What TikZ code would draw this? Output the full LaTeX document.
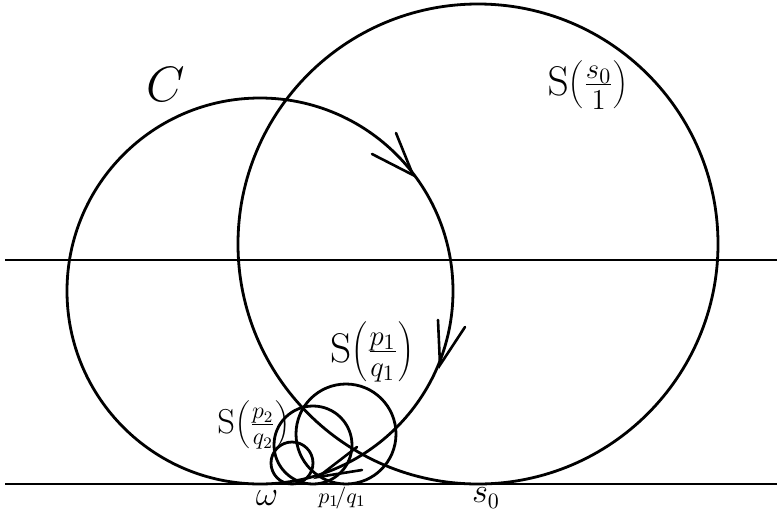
\documentclass[tikz,border=0pt]{standalone}
\begin{document}
\begin{tikzpicture}[x=0.5pt, y=-0.5pt,
  curve/.style={line width=1.4pt},
  barb/.style={line width=1.3pt, line cap=round},
  biglabel/.style={font=\fontsize{22}{26}\selectfont, inner sep=0pt},
  midlabel/.style={font=\fontsize{17}{20}\selectfont, inner sep=0pt},
  axislabel/.style={font=\fontsize{16}{19}\selectfont, inner sep=0pt}
]
\useasboundingbox (0,0) rectangle (777,515);

% The two horizontal lines.
\draw[curve] (5,484) -- (777,484);
\draw[curve] (5,260) -- (777,260);

% Centres of the circles.
\coordinate (cC)  at (260,291);
\coordinate (cS0) at (478,244);
\coordinate (cS1) at (346,434);
\coordinate (cS2) at (313,445);
\coordinate (cS3) at (292,463);

\draw[curve] (cC)  circle (193);
\draw[curve] (cS0) circle (240);
\draw[curve] (cS1) circle (50);
\draw[curve] (cS2) circle (39);
\draw[curve] (cS3) circle (21);

% Open arrow heads along C.
\coordinate (tipA) at (413,175);
\coordinate (tipB) at (440,365);
\coordinate (tipC) at (318,477);
\draw[barb] (396,133) -- (tipA) -- (372,154);
\draw[barb] (438,320) -- (tipB) -- (465,327);
\draw[barb] (357,447) -- (tipC) -- (362,470);

% Labels.
\node[font=\fontsize{30}{34}\selectfont, inner sep=0pt] (labC) at (166,84) {$C$};
\node[biglabel] (labS0) at (588,85) {$\mathrm{S}\!\left(\frac{s_0}{1}\right)$};
\node[biglabel] (labS1) at (372,352) {$\mathrm{S}\!\left(\frac{p_1}{q_1}\right)$};
\node[midlabel] (labS2) at (254,425) {$\mathrm{S}\!\left(\frac{p_2}{q_2}\right)$};
\node[axislabel] (labw)  at (267,498) {$\omega$};
\node[font=\fontsize{11}{13}\selectfont, inner sep=0pt] (labp) at (342,498) {$p_1\!/q_1$};
\node[axislabel] (labs)  at (486,498) {$s_0$};

\end{tikzpicture}
\end{document}
